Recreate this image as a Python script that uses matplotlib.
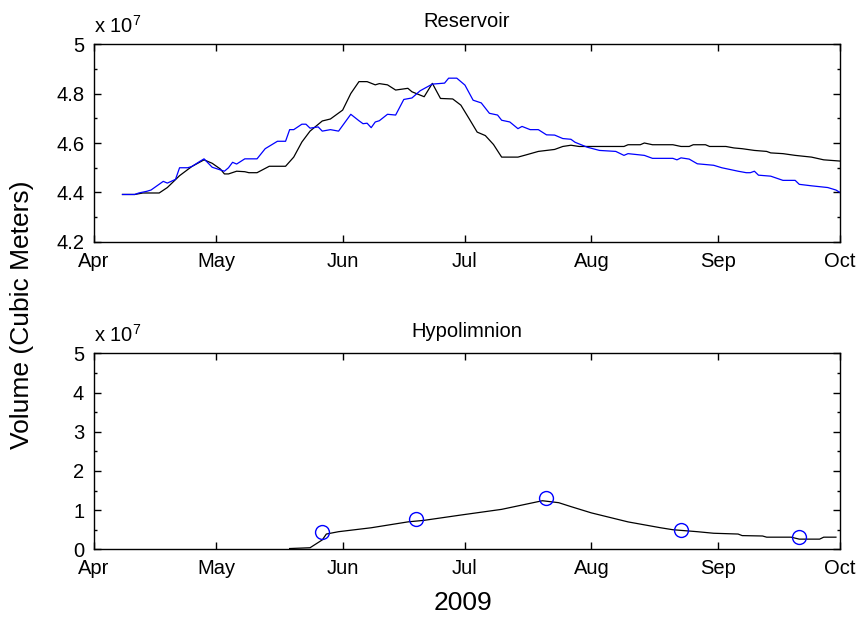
import matplotlib
matplotlib.use("Agg")
import matplotlib.pyplot as plt
import matplotlib.dates as mdates
from matplotlib.ticker import MultipleLocator, FuncFormatter
import pandas as pd

plt.rcParams["font.family"] = ["Liberation Sans", "DejaVu Sans"]
plt.rcParams["mathtext.fontset"] = "custom"
plt.rcParams["mathtext.rm"] = "Liberation Sans"

# Reservoir volume, black trace (m^3 / 1e7)
res_black_dates = [
    "2009-04-08", "2009-04-11", "2009-04-13", "2009-04-17", "2009-04-19",
    "2009-04-22", "2009-04-25", "2009-04-28", "2009-04-30", "2009-05-02",
    "2009-05-03", "2009-05-04", "2009-05-06", "2009-05-08", "2009-05-09",
    "2009-05-11", "2009-05-14", "2009-05-18", "2009-05-20", "2009-05-22",
    "2009-05-24", "2009-05-27", "2009-05-29", "2009-06-01", "2009-06-03",
    "2009-06-05", "2009-06-07", "2009-06-09", "2009-06-10", "2009-06-12",
    "2009-06-14", "2009-06-17", "2009-06-18", "2009-06-21", "2009-06-23",
    "2009-06-25", "2009-06-28", "2009-06-30", "2009-07-02", "2009-07-04",
    "2009-07-06", "2009-07-08", "2009-07-10", "2009-07-14", "2009-07-16",
    "2009-07-19", "2009-07-23", "2009-07-25", "2009-07-27", "2009-07-29",
    "2009-08-09", "2009-08-10", "2009-08-13", "2009-08-14", "2009-08-16",
    "2009-08-21", "2009-08-23", "2009-08-25", "2009-08-26", "2009-08-29",
    "2009-08-30", "2009-09-03", "2009-09-05", "2009-09-07", "2009-09-10",
    "2009-09-13", "2009-09-14", "2009-09-17", "2009-09-20", "2009-09-24",
    "2009-09-27", "2009-10-01",
]
res_black_vals = [
    4.392, 4.392, 4.398, 4.398, 4.420,
    4.468, 4.505, 4.532, 4.518, 4.495,
    4.475, 4.475, 4.486, 4.484, 4.480,
    4.480, 4.506, 4.506, 4.543, 4.604,
    4.648, 4.689, 4.697, 4.733, 4.800,
    4.848, 4.848, 4.835, 4.840, 4.835,
    4.814, 4.821, 4.807, 4.787, 4.841,
    4.780, 4.778, 4.753, 4.699, 4.644,
    4.630, 4.594, 4.543, 4.543, 4.552,
    4.566, 4.574, 4.586, 4.591, 4.586,
    4.586, 4.593, 4.593, 4.600, 4.593,
    4.593, 4.586, 4.586, 4.593, 4.593,
    4.586, 4.586, 4.580, 4.577, 4.570,
    4.566, 4.560, 4.557, 4.550, 4.543,
    4.532, 4.527,
]

# Reservoir volume, blue trace (m^3 / 1e7)
res_blue_dates = [
    "2009-04-08", "2009-04-11", "2009-04-12", "2009-04-14", "2009-04-15",
    "2009-04-18", "2009-04-19", "2009-04-21", "2009-04-22", "2009-04-24",
    "2009-04-25", "2009-04-27", "2009-04-28", "2009-04-30", "2009-05-03",
    "2009-05-04", "2009-05-05", "2009-05-06", "2009-05-08", "2009-05-11",
    "2009-05-13", "2009-05-16", "2009-05-18", "2009-05-19", "2009-05-20",
    "2009-05-22", "2009-05-23", "2009-05-24", "2009-05-26", "2009-05-27",
    "2009-05-29", "2009-05-31", "2009-06-03", "2009-06-05", "2009-06-06",
    "2009-06-07", "2009-06-08", "2009-06-09", "2009-06-10", "2009-06-12",
    "2009-06-14", "2009-06-16", "2009-06-18", "2009-06-20", "2009-06-23",
    "2009-06-26", "2009-06-27", "2009-06-29", "2009-07-01", "2009-07-03",
    "2009-07-05", "2009-07-07", "2009-07-09", "2009-07-10", "2009-07-12",
    "2009-07-14", "2009-07-15", "2009-07-17", "2009-07-19", "2009-07-21",
    "2009-07-23", "2009-07-25", "2009-07-27", "2009-07-28", "2009-07-31",
    "2009-08-03", "2009-08-07", "2009-08-09", "2009-08-10", "2009-08-14",
    "2009-08-16", "2009-08-21", "2009-08-22", "2009-08-23", "2009-08-25",
    "2009-08-27", "2009-08-31", "2009-09-02", "2009-09-04", "2009-09-06",
    "2009-09-08", "2009-09-09", "2009-09-10", "2009-09-11", "2009-09-14",
    "2009-09-17", "2009-09-20", "2009-09-21", "2009-09-24", "2009-09-28",
    "2009-09-30", "2009-10-01",
]
res_blue_vals = [
    4.392, 4.392, 4.398, 4.405, 4.410,
    4.445, 4.438, 4.453, 4.500, 4.500,
    4.505, 4.526, 4.536, 4.502, 4.486,
    4.500, 4.522, 4.515, 4.536, 4.536,
    4.577, 4.607, 4.607, 4.654, 4.654,
    4.676, 4.676, 4.660, 4.665, 4.648,
    4.654, 4.648, 4.716, 4.690, 4.678,
    4.680, 4.662, 4.685, 4.690, 4.716,
    4.713, 4.776, 4.782, 4.811, 4.838,
    4.842, 4.862, 4.862, 4.834, 4.773,
    4.762, 4.720, 4.713, 4.692, 4.685,
    4.658, 4.667, 4.654, 4.654, 4.633,
    4.632, 4.618, 4.615, 4.603, 4.583,
    4.570, 4.566, 4.550, 4.557, 4.550,
    4.538, 4.538, 4.532, 4.540, 4.535,
    4.516, 4.510, 4.500, 4.493, 4.486,
    4.480, 4.480, 4.486, 4.470, 4.466,
    4.449, 4.449, 4.433, 4.427, 4.420,
    4.410, 4.400,
]

# Hypolimnion volume, modelled line (m^3 / 1e7)
hypo_dates = [
    "2009-05-19", "2009-05-24", "2009-05-27", "2009-05-28", "2009-05-31",
    "2009-06-08", "2009-06-17", "2009-06-21", "2009-06-30", "2009-07-10",
    "2009-07-20", "2009-07-24", "2009-07-27", "2009-08-01", "2009-08-10",
    "2009-08-18", "2009-08-21", "2009-08-27", "2009-08-31", "2009-09-06",
    "2009-09-07", "2009-09-12", "2009-09-13", "2009-09-19", "2009-09-21",
    "2009-09-26", "2009-09-27", "2009-09-30",
]
hypo_vals = [
    0.02, 0.04, 0.24, 0.39, 0.45,
    0.55, 0.70, 0.74, 0.875, 1.02,
    1.24, 1.19, 1.09, 0.93, 0.70,
    0.55, 0.50, 0.45, 0.41, 0.39,
    0.35, 0.34, 0.31, 0.31, 0.26,
    0.26, 0.31, 0.31,
]

# Hypolimnion volume, sampled points (m^3 / 1e7)
hypo_obs_dates = ["2009-05-27", "2009-06-19", "2009-07-21", "2009-08-23", "2009-09-21"]
hypo_obs_vals = [0.45, 0.78, 1.32, 0.49, 0.31]

SCALE = 1e7
FS = 14.5


def to_dates(strs):
    return pd.to_datetime(strs)


def scaled(vals):
    return [v * SCALE for v in vals]


def style_axes(ax, ylim, ystep, yminor, title):
    ax.set_xlim(pd.Timestamp("2009-04-01"), pd.Timestamp("2009-10-01"))
    ax.set_ylim(ylim[0] * SCALE, ylim[1] * SCALE)
    ax.xaxis.set_major_locator(mdates.MonthLocator())
    ax.xaxis.set_major_formatter(mdates.DateFormatter("%b"))
    ax.yaxis.set_major_locator(MultipleLocator(ystep * SCALE))
    ax.yaxis.set_minor_locator(MultipleLocator(yminor * SCALE))
    ax.yaxis.set_major_formatter(FuncFormatter(lambda v, p: f"{v / SCALE:g}"))
    ax.tick_params(which="both", direction="in", top=True, right=True,
                   labelsize=FS, width=1.0)
    ax.tick_params(which="major", length=5, pad=7)
    ax.tick_params(which="minor", length=2.5)
    ax.tick_params(axis="x", which="minor", length=0)
    for sp in ax.spines.values():
        sp.set_linewidth(1.0)
    ax.set_title(title, fontsize=FS, pad=12)
    ax.annotate(r"x 10$^{7}$", xy=(0, 1), xycoords="axes fraction",
                xytext=(0, 8), textcoords="offset points",
                ha="left", va="baseline", fontsize=FS)


fig = plt.figure(figsize=(8.62, 6.2), dpi=100)

ax1 = fig.add_axes([0.109, 0.6097, 0.8655, 0.3193])
ax1.plot(to_dates(res_black_dates), scaled(res_black_vals), color="black", lw=0.9)
ax1.plot(to_dates(res_blue_dates), scaled(res_blue_vals), color="blue", lw=0.9)
style_axes(ax1, (4.2, 5.0), 0.2, 0.1, "Reservoir")

ax2 = fig.add_axes([0.109, 0.114, 0.8655, 0.316])
ax2.plot(to_dates(hypo_dates), scaled(hypo_vals), color="black", lw=0.9)
ax2.plot(to_dates(hypo_obs_dates), scaled(hypo_obs_vals), "o", mfc="none",
         mec="blue", ms=10, mew=1.0)
style_axes(ax2, (0, 5), 1, 0.5, "Hypolimnion")

fig.text(0.026, 0.492, "Volume (Cubic Meters)", rotation=90,
         ha="center", va="center", fontsize=19)
fig.text(0.537, 0.027, "2009", ha="center", va="center", fontsize=19)

fig.savefig("out.png", dpi=100)
